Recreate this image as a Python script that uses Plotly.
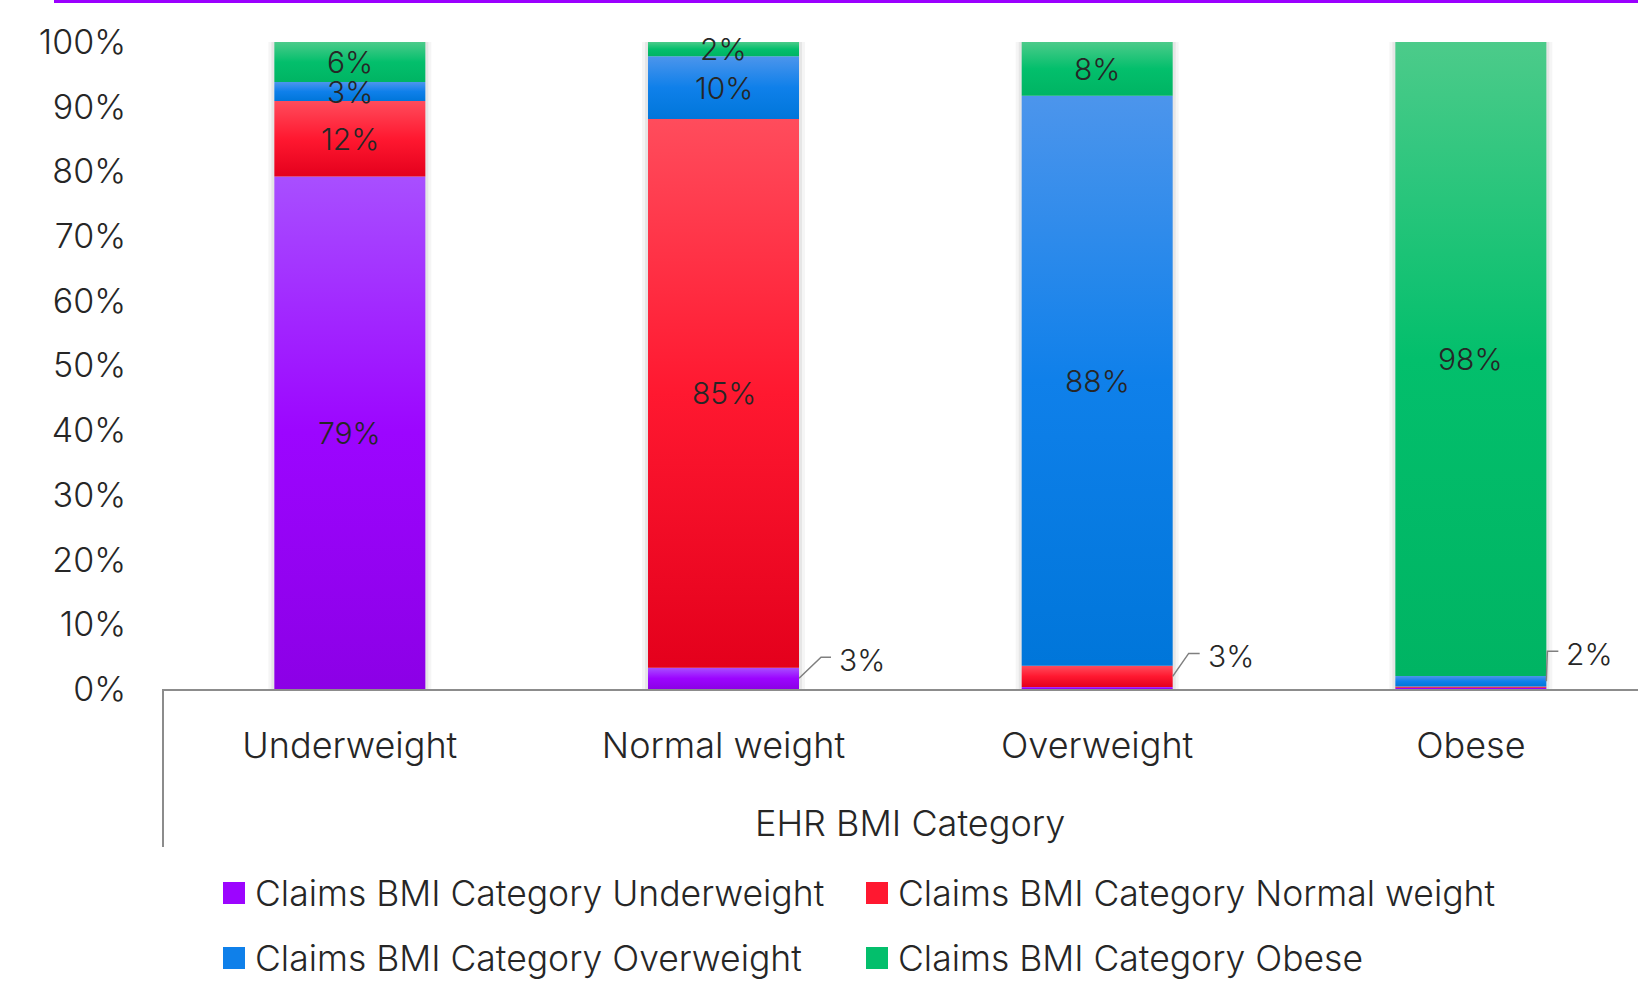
import plotly.graph_objects as go

# ---- data -------------------------------------------------------------
categories = ["Underweight", "Normal weight", "Overweight", "Obese"]
series_names = [
    "Claims BMI Category Underweight",
    "Claims BMI Category Normal weight",
    "Claims BMI Category Overweight",
    "Claims BMI Category Obese",
]
claims_underweight = [79.2, 3.3, 0.3, 0.2]
claims_normal = [11.7, 84.8, 3.3, 0.2]
claims_overweight = [2.9, 9.7, 88.1, 1.6]
claims_obese = [6.2, 2.2, 8.3, 98.0]
y_ticks = [0, 10, 20, 30, 40, 50, 60, 70, 80, 90, 100]
y_tick_labels = [f"{t}%" for t in y_ticks]

series_values = [claims_underweight, claims_normal, claims_overweight, claims_obese]

# ---- styling ----------------------------------------------------------
W, H = 1638, 981
ML, MT, MB = 163, 42, 292
PLOT_W = W - ML
PLOT_H = H - MT - MB
BAND_PX = 373.67                      # width of one category band in px
X_MAX = (W - ML) / BAND_PX - 0.5      # right edge cuts into the last band
BAR_W = 151 / BAND_PX
FONT = "Inter"
TXT = "#262626"

# gradient stops per series: bottom (dark) -> middle -> top (light)
gradients = [
    ["#8c00e6", "#9c05ff", "#a84fff"],
    ["#e4001c", "#ff1830", "#ff4c5c"],
    ["#0076da", "#0f80ea", "#4c95ec"],
    ["#00b463", "#03bf6c", "#4ccb8a"],
]

# labelled segments that use an outside callout: (series, category) -> elbow offsets (px)
callouts = {(0, 1): (22, -21, 10), (1, 2): (16, -23, 11), (2, 3): (1, -30, 11)}
hidden_labels = {(0, 2), (0, 3), (1, 3)}

XU = 1.0 / BAND_PX          # data units per px along x
YU = 100.0 / PLOT_H         # data units per px along y


def px_x(px):
    return (px - ML) / PLOT_W


def px_y(py):
    return (H - MB - py) / PLOT_H


fig = go.Figure()
annotations = []
shapes = []

# soft shadow behind each bar
for i in range(len(categories)):
    for spread, alpha in ((6, 0.04), (3, 0.06)):
        shapes.append(dict(
            type="rect", xref="x", yref="y", layer="below",
            x0=i - BAR_W / 2 - spread * XU, x1=i + BAR_W / 2 + spread * XU,
            y0=0, y1=100 + spread * 0.5 * YU,
            fillcolor=f"rgba(0,0,0,{alpha})", line=dict(width=0),
        ))

# stacked segments, each with its own vertical gradient
bases = [0.0] * len(categories)
for s, vals in enumerate(series_values):
    dark, mid, light = gradients[s]
    for i, v in enumerate(vals):
        y0, y1 = bases[i], bases[i] + v
        x0, x1 = i - BAR_W / 2, i + BAR_W / 2
        fig.add_trace(go.Scatter(
            x=[x0, x1, x1, x0, x0], y=[y0, y0, y1, y1, y0],
            mode="lines", fill="toself", line=dict(width=0),
            fillgradient=dict(type="vertical",
                              colorscale=[[0, dark], [0.5, mid], [1, light]]),
            name=series_names[s], showlegend=False, hoverinfo="skip",
        ))
        label = f"{v:.0f}%"
        yc = (y0 + y1) / 2
        if (s, i) in callouts:
            dx, dy, run = callouts[(s, i)]
            sx, sy = x1, yc
            ex, ey = sx + dx * XU, sy - dy * YU
            shapes.append(dict(
                type="path", xref="x", yref="y",
                path=f"M {sx},{sy} L {ex},{ey} L {ex + run * XU},{ey}",
                line=dict(color="#7f7f7f", width=1.5),
            ))
            annotations.append(dict(
                x=ex + (run + 6) * XU, y=ey - 3 * YU, xref="x", yref="y",
                text=label, showarrow=False, xanchor="left", yanchor="middle",
                font=dict(family=FONT, size=30, color=TXT, weight=300),
            ))
        elif (s, i) not in hidden_labels:
            annotations.append(dict(
                x=i, y=yc, xref="x", yref="y", text=label, showarrow=False,
                xanchor="center", yanchor="middle",
                font=dict(family=FONT, size=30, color=TXT, weight=300),
            ))
        bases[i] = y1

# purple rule across the top
shapes.append(dict(type="rect", xref="paper", yref="paper",
                   x0=px_x(54), x1=px_x(W + 5), y0=px_y(3), y1=px_y(-2),
                   fillcolor="#9b00ff", line=dict(width=0)))
# category divider at the left of the x axis
shapes.append(dict(type="line", xref="paper", yref="paper",
                   x0=0, x1=0, y0=0, y1=px_y(847),
                   line=dict(color="#8c8c8c", width=2)))

# axis title
annotations.append(dict(
    x=1.5, y=px_y(823), xref="x", yref="paper", text="EHR BMI Category",
    showarrow=False, xanchor="center", yanchor="middle",
    font=dict(family=FONT, size=36, color=TXT, weight=300),
))

# legend: two columns, two rows
legend_pos = [(223, 893), (866, 893), (223, 958), (866, 958)]
for s, (lx, ly) in enumerate(legend_pos):
    dark, mid, light = gradients[s]
    shapes.append(dict(type="rect", xref="paper", yref="paper",
                       x0=px_x(lx), x1=px_x(lx + 22),
                       y0=px_y(ly + 11), y1=px_y(ly - 11),
                       fillcolor=mid, line=dict(width=0)))
    annotations.append(dict(
        x=px_x(lx + 30), y=px_y(ly), xref="paper", yref="paper",
        text=series_names[s], showarrow=False, xanchor="left", yanchor="middle",
        font=dict(family=FONT, size=35.5, color=TXT, weight=300),
    ))

fig.update_layout(
    width=W, height=H,
    margin=dict(l=ML, r=0, t=MT, b=MB, autoexpand=False),
    paper_bgcolor="white", plot_bgcolor="white",
    showlegend=False,
    shapes=shapes, annotations=annotations,
    xaxis=dict(
        range=[-0.5, X_MAX], tickvals=list(range(len(categories))),
        ticktext=categories, showgrid=False, zeroline=False,
        showline=True, linecolor="#8c8c8c", linewidth=2, ticks="",
        ticklabelstandoff=24,
        tickfont=dict(family=FONT, size=36, color=TXT, weight=300),
        fixedrange=True,
    ),
    yaxis=dict(
        range=[0, 100], tickvals=y_ticks, ticktext=y_tick_labels,
        showgrid=False, zeroline=False, showline=False, ticks="",
        ticklabelstandoff=36,
        tickfont=dict(family=FONT, size=34, color=TXT, weight=300),
        fixedrange=True,
    ),
)

fig.write_html("out.html")
